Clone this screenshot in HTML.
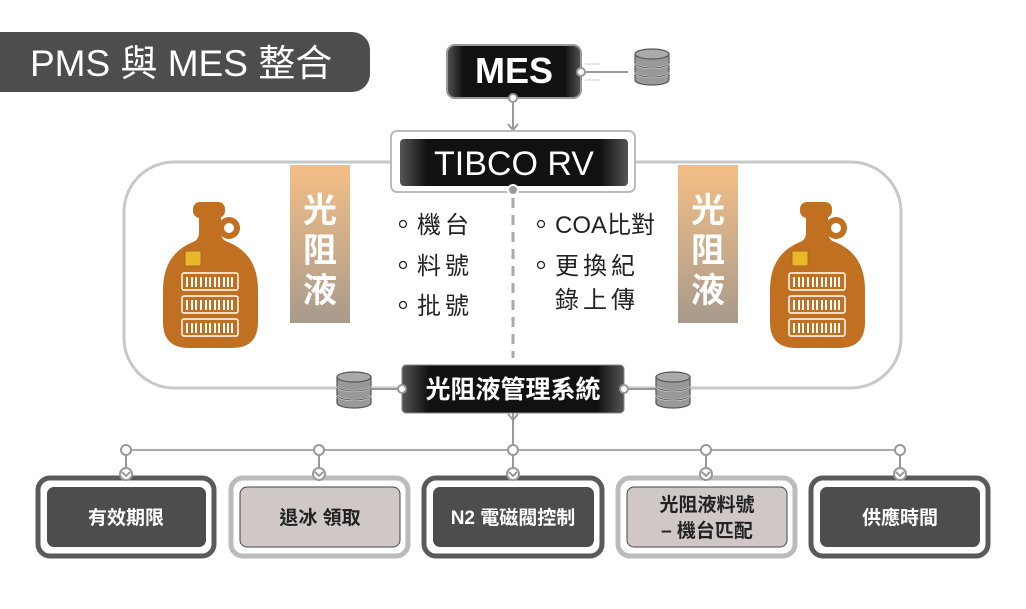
<!DOCTYPE html>
<html><head><meta charset="utf-8"><style>
html,body{margin:0;padding:0;background:#fff;}
svg{display:block;}
text{font-family:"Liberation Sans","Noto Sans CJK TC",sans-serif;}
</style></head><body>
<svg width="1026" height="609" viewBox="0 0 1026 609" xmlns="http://www.w3.org/2000/svg">
<defs>
<linearGradient id="blk" x1="0" x2="1" y1="0" y2="0">
<stop offset="0" stop-color="#555"/><stop offset="0.12" stop-color="#111"/><stop offset="0.88" stop-color="#111"/><stop offset="1" stop-color="#555"/>
</linearGradient>
<linearGradient id="org" x1="0" x2="0" y1="0" y2="1">
<stop offset="0" stop-color="#f4bf86"/><stop offset="1" stop-color="#a89a8c"/>
</linearGradient>
<g id="db">
<path d="M0,6 v26 a17,5 0 0 0 34,0 v-26" fill="#999" stroke="#555" stroke-width="1.2"/>
<ellipse cx="17" cy="6" rx="17" ry="5" fill="#aaa" stroke="#555" stroke-width="1.2"/>
<path d="M0,15 a17,5 0 0 0 34,0 M0,24 a17,5 0 0 0 34,0" fill="none" stroke="#eee" stroke-width="2"/>
<path d="M0,15 a17,5 0 0 0 34,0 M0,24 a17,5 0 0 0 34,0" fill="none" stroke="#555" stroke-width="1"/>
</g>
<g id="bottle">
<circle cx="66" cy="28" r="11" fill="#c07020"/>
<circle cx="66" cy="28" r="5" fill="#fff"/>
<path d="M36,14 L36,32 Q36,40 30,42 Q0,54 0,90 L0,122 Q0,148 26,148 L69,148 Q95,148 95,122 L95,90 Q95,54 65,42 Q58,40 58,32 L58,14 Z" fill="#c07020"/>
<rect x="30" y="2" width="32" height="16" rx="7" fill="#c07020"/>
<rect x="22" y="51" width="16" height="15" fill="#e8b82a" stroke="#a86a20"/>
<g fill="none" stroke="#fff" stroke-width="1.5">
<rect x="19" y="73" width="56" height="17" rx="2"/><rect x="19" y="96" width="56" height="17" rx="2"/><rect x="19" y="119" width="56" height="17" rx="2"/>
</g>
<g stroke="#fff" stroke-width="2">
<path d="M24,77v10M29,77v10M33,77v10M38,77v10M43,77v10M47,77v10M52,77v10M56,77v10M61,77v10M65,77v10M69,77v10"/>
<path d="M24,100v10M29,100v10M33,100v10M38,100v10M43,100v10M47,100v10M52,100v10M56,100v10M61,100v10M65,100v10M69,100v10"/>
<path d="M24,123v10M29,123v10M33,123v10M38,123v10M43,123v10M47,123v10M52,123v10M56,123v10M61,123v10M65,123v10M69,123v10"/>
</g>
</g>
</defs>

<!-- title -->
<path d="M0,32 h352 a18,18 0 0 1 18,18 v24 a18,18 0 0 1 -18,18 h-352z" fill="#4d4d4d"/>
<text x="30" y="76" font-size="37" fill="#fff">PMS 與 MES 整合</text>

<!-- big rounded container -->
<path d="M390,162 H174 a50,50 0 0 0 -50,50 v126 a50,50 0 0 0 50,50 H402" fill="none" stroke="#c8c8c8" stroke-width="3"/>
<path d="M636,162 H851 a50,50 0 0 1 50,50 v126 a50,50 0 0 1 -50,50 H624" fill="none" stroke="#c8c8c8" stroke-width="3"/>

<!-- MES -->
<rect x="447" y="45" width="134" height="53" rx="8" fill="url(#blk)" stroke="#999" stroke-width="2"/>
<text x="514" y="83" font-size="36" font-weight="bold" fill="#fff" text-anchor="middle">MES</text>
<line x1="583" y1="72" x2="628" y2="72" stroke="#999" stroke-width="2"/>
<line x1="585" y1="64" x2="600" y2="64" stroke="#ccc"/><line x1="585" y1="80" x2="600" y2="80" stroke="#ccc"/>
<circle cx="581" cy="72" r="4" fill="#fff" stroke="#999" stroke-width="2"/>
<use href="#db" x="635" y="48"/>
<line x1="513" y1="98" x2="513" y2="130" stroke="#999" stroke-width="2"/>
<circle cx="513" cy="98" r="4" fill="#fff" stroke="#999" stroke-width="2"/>
<path d="M508,124 l5,6 l5,-6" fill="none" stroke="#999" stroke-width="2"/>

<!-- TIBCO -->
<rect x="391" y="131" width="244" height="61" rx="6" fill="none" stroke="#bbb" stroke-width="2"/>
<rect x="400" y="139" width="228" height="47" rx="4" fill="url(#blk)"/>
<text x="514" y="175" font-size="34" fill="#fff" text-anchor="middle">TIBCO RV</text>
<circle cx="513" cy="190" r="5" fill="#999" stroke="#fff" stroke-width="2"/>
<line x1="513" y1="198" x2="513" y2="358" stroke="#aaa" stroke-width="3" stroke-dasharray="10,7"/>

<!-- bottles -->
<use href="#bottle" x="163" y="200"/>
<use href="#bottle" x="770" y="200"/>
<rect x="290" y="165" width="60" height="158" fill="url(#org)"/>
<rect x="678" y="165" width="60" height="158" fill="url(#org)"/>
<g font-size="34" font-weight="bold" fill="#fff" text-anchor="middle">
<text x="320" y="222">光</text><text x="320" y="262">阻</text><text x="320" y="302">液</text>
<text x="708" y="222">光</text><text x="708" y="262">阻</text><text x="708" y="302">液</text>
</g>

<!-- bullets -->
<g fill="none" stroke="#222" stroke-width="1.3">
<circle cx="403" cy="224" r="3.5"/><circle cx="403" cy="265" r="3.5"/><circle cx="403" cy="305" r="3.5"/>
<circle cx="541" cy="224" r="3.5"/><circle cx="541" cy="265" r="3.5"/>
</g>
<g font-size="24" fill="#222">
<text x="417" y="233" letter-spacing="4">機台</text>
<text x="417" y="274" letter-spacing="4">料號</text>
<text x="417" y="314" letter-spacing="4">批號</text>
<text x="555" y="233">COA比對</text>
<text x="555" y="274" letter-spacing="4">更換紀</text>
<text x="555" y="308" letter-spacing="4">錄上傳</text>
</g>

<!-- management -->
<line x1="372" y1="389" x2="402" y2="389" stroke="#999" stroke-width="2"/>
<line x1="624" y1="389" x2="656" y2="389" stroke="#999" stroke-width="2"/>
<use href="#db" x="337" y="371"/>
<use href="#db" x="656" y="371"/>
<rect x="402" y="365" width="222" height="48" rx="4" fill="url(#blk)" stroke="#888"/>
<circle cx="402" cy="389" r="4" fill="#fff" stroke="#999" stroke-width="2"/>
<circle cx="624" cy="389" r="4" fill="#fff" stroke="#999" stroke-width="2"/>
<text x="513" y="398" font-size="25" font-weight="bold" fill="#fff" text-anchor="middle">光阻液管理系統</text>
<line x1="513" y1="413" x2="513" y2="446" stroke="#999" stroke-width="2"/>
<path d="M508,414 l5,6 l5,-6" fill="none" stroke="#999" stroke-width="2"/>

<!-- bottom bus -->
<line x1="126" y1="450" x2="900" y2="450" stroke="#aaa" stroke-width="2"/>
<g stroke="#999" stroke-width="2" fill="#fff">
<line x1="126" y1="454" x2="126" y2="472"/><line x1="319" y1="454" x2="319" y2="472"/><line x1="513" y1="454" x2="513" y2="472"/><line x1="706" y1="454" x2="706" y2="472"/><line x1="900" y1="454" x2="900" y2="472"/>
<circle cx="126" cy="450" r="5"/><circle cx="319" cy="450" r="5"/><circle cx="513" cy="450" r="5"/><circle cx="706" cy="450" r="5"/><circle cx="900" cy="450" r="5"/>
</g>

<!-- bottom boxes -->
<g>
<rect x="38" y="478" width="176" height="78" rx="12" fill="#fff" stroke="#5a5a5a" stroke-width="5"/>
<rect x="47" y="487" width="159" height="60" rx="7" fill="#4d4d4d"/>
<rect x="231" y="478" width="177" height="78" rx="12" fill="#fff" stroke="#bbb" stroke-width="5"/>
<rect x="240" y="487" width="160" height="60" rx="7" fill="#d0c8c6" stroke="#444"/>
<rect x="424" y="478" width="178" height="78" rx="12" fill="#fff" stroke="#5a5a5a" stroke-width="5"/>
<rect x="433" y="487" width="161" height="60" rx="7" fill="#4d4d4d"/>
<rect x="618" y="478" width="177" height="78" rx="12" fill="#fff" stroke="#bbb" stroke-width="5"/>
<rect x="627" y="487" width="160" height="60" rx="7" fill="#d0c8c6" stroke="#444"/>
<rect x="811" y="478" width="177" height="78" rx="12" fill="#fff" stroke="#5a5a5a" stroke-width="5"/>
<rect x="820" y="487" width="160" height="60" rx="7" fill="#4d4d4d"/>
</g>
<g stroke="#999" stroke-width="2" fill="#fff">
<circle cx="126" cy="474" r="6"/><circle cx="319" cy="474" r="6"/><circle cx="513" cy="474" r="6"/><circle cx="706" cy="474" r="6"/><circle cx="900" cy="474" r="6"/>
</g>
<g stroke="#999" stroke-width="2" fill="none">
<path d="M122,472l4,4l4,-4M315,472l4,4l4,-4M509,472l4,4l4,-4M702,472l4,4l4,-4M896,472l4,4l4,-4"/>
</g>
<g font-size="19" font-weight="bold" text-anchor="middle">
<text x="126" y="524" fill="#fff">有效期限</text>
<text x="320" y="524" fill="#222">退冰 領取</text>
<text x="513" y="524" fill="#fff">N2 電磁閥控制</text>
<text x="707" y="511" fill="#222">光阻液料號</text>
<text x="707" y="537" fill="#222">– 機台匹配</text>
<text x="900" y="524" fill="#fff">供應時間</text>
</g>
</svg>
</body></html>
